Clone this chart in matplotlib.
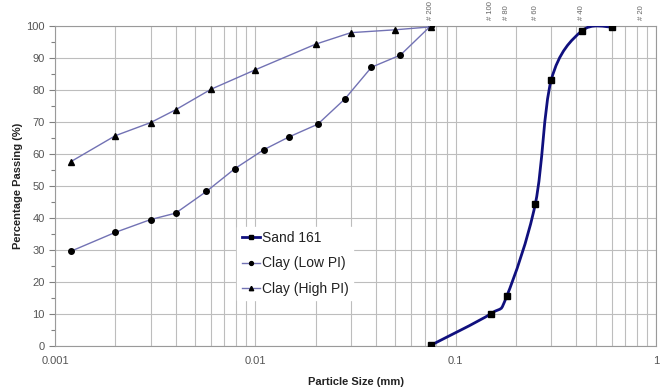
import numpy as np
import matplotlib as mpl
mpl.use('Agg')
import matplotlib.pyplot as plt
from matplotlib.path import Path
from matplotlib.patches import PathPatch
from matplotlib.ticker import FixedLocator, MultipleLocator, NullFormatter

mpl.rcParams['font.family'] = ['Liberation Sans', 'DejaVu Sans']

sand_size = [0.075, 0.15, 0.18, 0.25, 0.30, 0.425, 0.60]
sand_pass = [0.2, 10.1, 15.6, 44.5, 83.1, 98.4, 99.7]

low_size = [0.0012, 0.002, 0.003, 0.004, 0.0057, 0.0079, 0.011, 0.0147, 0.0205,
            0.028, 0.038, 0.053, 0.075]
low_pass = [29.6, 35.5, 39.5, 41.5, 48.3, 55.4, 61.3, 65.3, 69.3, 77.2, 87.1, 90.9, 100.0]

high_size = [0.0012, 0.002, 0.003, 0.004, 0.006, 0.01, 0.02, 0.03, 0.05, 0.075]
high_pass = [57.6, 65.7, 69.8, 73.8, 80.2, 86.3, 94.3, 97.9, 98.8, 99.7]

sieve_size = [0.075, 0.15, 0.18, 0.25, 0.425, 0.85]
sieve_name = ["# 200", "# 100", "# 80", "# 60", "# 40", "# 20"]

GRID = "#bdbdbd"
CLAY = "#7272b4"
SAND = "#10107e"


def smooth_path(xs, ys):
    # cubic bezier through the points, built in log10(x) space
    lx = np.log10(xs)
    y = np.array(ys, dtype=float)
    n = len(lx)
    verts = [(lx[0], y[0])]
    codes = [Path.MOVETO]
    for i in range(n - 1):
        p0 = (lx[max(i - 1, 0)], y[max(i - 1, 0)])
        p1 = (lx[i], y[i])
        p2 = (lx[i + 1], y[i + 1])
        p3 = (lx[min(i + 2, n - 1)], y[min(i + 2, n - 1)])
        c1 = (p1[0] + (p2[0] - p0[0]) / 6, p1[1] + (p2[1] - p0[1]) / 6)
        c2 = (p2[0] - (p3[0] - p1[0]) / 6, p2[1] - (p3[1] - p1[1]) / 6)
        verts += [c1, c2, p2]
        codes += [Path.CURVE4] * 3
    verts = [(10 ** vx, vy) for vx, vy in verts]
    return Path(verts, codes)


fig = plt.figure(figsize=(6.67, 3.87), dpi=100)
ax = fig.add_axes([0.0825, 0.106, 0.901, 0.827])

ax.set_xscale("log")
ax.set_xlim(0.001, 1)
ax.set_ylim(0, 100)

ax.grid(True, which="major", axis="both", color=GRID, lw=0.8)
ax.grid(True, which="minor", axis="x", color=GRID, lw=0.8)
ax.set_axisbelow(True)
for s in ax.spines.values():
    s.set_color("#9a9a9a")
    s.set_linewidth(0.8)

ax.yaxis.set_major_locator(MultipleLocator(10))
ax.yaxis.set_minor_locator(MultipleLocator(5))
ax.xaxis.set_major_locator(FixedLocator([0.001, 0.01, 0.1, 1]))
ax.set_xticklabels(["0.001", "0.01", "0.1", "1"])
ax.xaxis.set_minor_formatter(NullFormatter())
ax.tick_params(axis="both", which="both", colors="#808080", labelsize=8, labelcolor="#555555")
ax.tick_params(axis="x", which="both", length=0, pad=7)
ax.tick_params(axis="y", which="major", length=4, width=0.8)
ax.tick_params(axis="y", which="minor", length=3, width=0.8)

ax.add_patch(PathPatch(smooth_path(sand_size, sand_pass), fill=False,
                       edgecolor=SAND, lw=2, zorder=3))
ax.plot(sand_size, sand_pass, ls="none", marker="s", ms=5, color="black", zorder=4)
ax.plot([], [], color=SAND, lw=2, marker="s", ms=5, mfc="black", mec="black", label="Sand 161")

ax.plot(low_size, low_pass, color=CLAY, lw=1, marker="o", ms=4,
        mfc="black", mec="black", label="Clay (Low PI)", zorder=3)
ax.plot(high_size, high_pass, color=CLAY, lw=1, marker="^", ms=4.5,
        mfc="black", mec="black", label="Clay (High PI)", zorder=3)

leg = ax.legend(loc="upper left", bbox_to_anchor=(0.292, 0.395), frameon=True,
                fontsize=10, handlelength=1.35, handletextpad=0.1, labelspacing=0.85,
                borderpad=0.3, fancybox=False, markerscale=0.7)
leg.get_frame().set_edgecolor("white")
leg.get_frame().set_facecolor("white")
leg.get_frame().set_alpha(1)
for t in leg.get_texts():
    t.set_color("#222222")

for sz, nm in zip(sieve_size, sieve_name):
    ax.annotate(nm, xy=(sz, 100), xytext=(0, 4), textcoords="offset points",
                rotation=90, ha="center", va="bottom", fontsize=5.5, color="#666666")

ax.set_xlabel("Particle Size (mm)", fontsize=8, fontweight="bold", color="#222222", labelpad=8)
ax.set_ylabel("Percentage Passing (%)", fontsize=8, fontweight="bold", color="#222222", labelpad=2)

fig.savefig("out.png", dpi=100)
